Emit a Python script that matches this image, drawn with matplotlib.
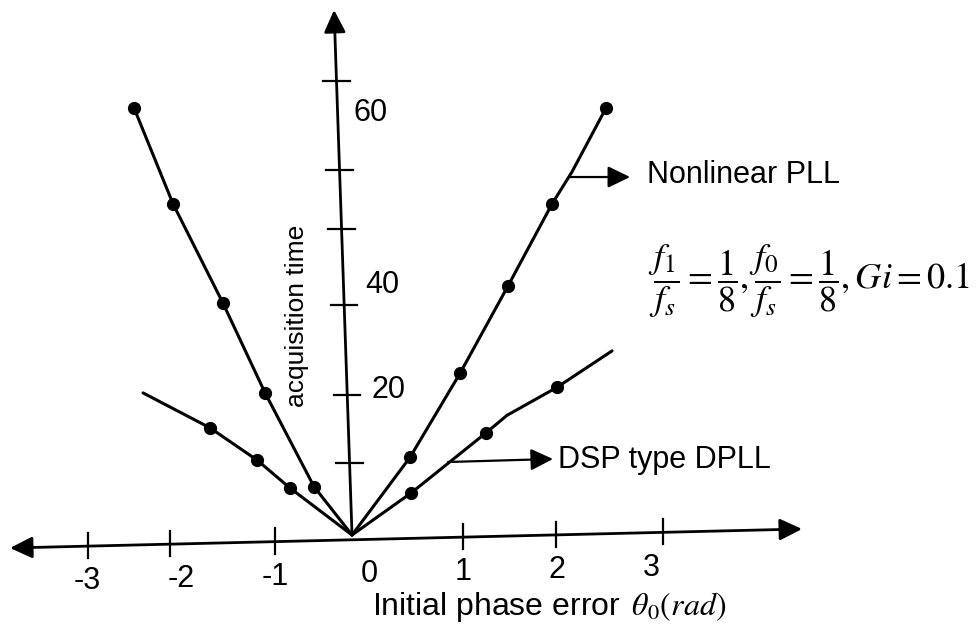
import numpy as np
import matplotlib
matplotlib.use('Agg')
import matplotlib.pyplot as plt

plt.rcParams['font.family'] = ['Liberation Sans', 'DejaVu Sans']
plt.rcParams['mathtext.fontset'] = 'stix'

# curves (phase error, acquisition time)
nl_left_x = [-2.50, -2.085, -1.553, -1.106, -0.585, -0.181]
nl_left_y = [61.0, 47.3, 33.1, 20.3, 6.9, 0.0]
nl_right_x = [-0.181, 0.436, 0.968, 1.479, 1.947, 2.16, 2.521]
nl_right_y = [0.0, 11.1, 23.1, 35.6, 47.3, 51.9, 61.0]
nl_right_dot = [False, True, True, True, True, False, True]

dsp_left_x = [-2.404, -1.691, -1.191, -0.840, -0.181]
dsp_left_y = [20.3, 15.3, 10.7, 6.7, 0.0]
dsp_left_dot = [False, True, True, True, False]
dsp_right_x = [-0.181, 0.447, 1.245, 1.468, 2.0, 2.585]
dsp_right_y = [0.0, 6.0, 14.6, 17.1, 21.1, 26.3]
dsp_right_dot = [False, True, True, False, True, False]

# axis ticks as drawn
x_tick_pos = [-2.99, -2.12, -1.0, 1.0, 1.99, 3.13]
x_tick_labels = [-3, -2, -1, 0, 1, 2, 3]
y_tick_pos = [10.3, 20.0, 32.9, 43.7, 52.1, 64.9]
y_label_vals = ['60', '40', '20']
y_label_pos = [(0.0, 60.3), (0.06, 35.7), (0.09, 20.7)]


def axis_y_at(x):
    # x axis is drawn slightly tilted in the scan
    return np.interp(x, [-3.819, 4.606], [-1.857, 0.857])


def yaxis_x_at(y):
    return -0.181 + (y / 75.0) * (-0.191)


fig = plt.figure(figsize=(9.76, 6.33), dpi=100)
ax = fig.add_axes([0, 0, 1, 1])
ax.set_xlim(-3.926, 6.457)
ax.set_ylim(-14.0, 76.43)
ax.axis('off')

arrow_kw = dict(arrowstyle='-|>,head_length=0.68,head_width=0.33', mutation_scale=20,
                lw=2, color='black', shrinkA=0, shrinkB=0)

# x axis with arrows at both ends
ax.annotate('', xy=(4.606, 0.857), xytext=(-3.819, -1.857),
            arrowprops=dict(arrow_kw, arrowstyle='<|-|>,head_length=0.68,head_width=0.33'))
# y axis
ax.annotate('', xy=(-0.372, 75.0), xytext=(-0.181, 0.0), arrowprops=arrow_kw)

for xt in x_tick_pos:
    yc = axis_y_at(xt)
    ax.plot([xt, xt], [yc - 1.7, yc + 1.9], color='black', lw=1.6)
for v in x_tick_labels:
    ax.text(v, axis_y_at(v) - 5.0, str(v), fontsize=22, ha='center', va='center')

for yt in y_tick_pos:
    xc = yaxis_x_at(yt)
    ax.plot([xc - 0.14, xc + 0.14], [yt, yt], color='black', lw=1.6)
for lab, (dx, yl) in zip(y_label_vals, y_label_pos):
    ax.text(yaxis_x_at(yl) + 0.17 + dx, yl, lab, fontsize=22, ha='left', va='center')

# curves
line_kw = dict(color='black', lw=2.2, solid_capstyle='round', solid_joinstyle='round')
dot_kw = dict(color='black', marker='o', ms=8.5, ls='none')

ax.plot(nl_left_x, nl_left_y, **line_kw)
ax.plot(nl_left_x[:-1], nl_left_y[:-1], **dot_kw)
ax.plot(nl_right_x, nl_right_y, **line_kw)
ax.plot(np.array(nl_right_x)[nl_right_dot], np.array(nl_right_y)[nl_right_dot], **dot_kw)
ax.plot(dsp_left_x, dsp_left_y, **line_kw)
ax.plot(np.array(dsp_left_x)[dsp_left_dot], np.array(dsp_left_y)[dsp_left_dot], **dot_kw)
ax.plot(dsp_right_x, dsp_right_y, **line_kw)
ax.plot(np.array(dsp_right_x)[dsp_right_dot], np.array(dsp_right_y)[dsp_right_dot], **dot_kw)

# callouts
ax.annotate('', xy=(2.777, 51.14), xytext=(2.138, 51.14), arrowprops=dict(arrow_kw, lw=1.6))
ax.text(2.957, 50.29, 'Nonlinear PLL', fontsize=22, ha='left', va='baseline')
ax.annotate('', xy=(1.957, 10.86), xytext=(0.840, 10.43), arrowprops=dict(arrow_kw, lw=1.6))
ax.text(2.011, 9.57, 'DSP type DPLL', fontsize=22, ha='left', va='baseline')

ax.text(4.68, 36.3, r'$\dfrac{f_1}{f_s}=\dfrac{1}{8},\dfrac{f_0}{f_s}=\dfrac{1}{8},Gi=0.1$',
        fontsize=26, ha='center', va='center')

ax.text(0.032, -11.4, r'Initial phase error $\,\theta_0(rad)$', fontsize=23,
        ha='left', va='baseline')
ax.text(-0.766, 31.29, 'acquisition time', fontsize=19, rotation=90,
        ha='center', va='center')

fig.savefig('out.png', dpi=100)
